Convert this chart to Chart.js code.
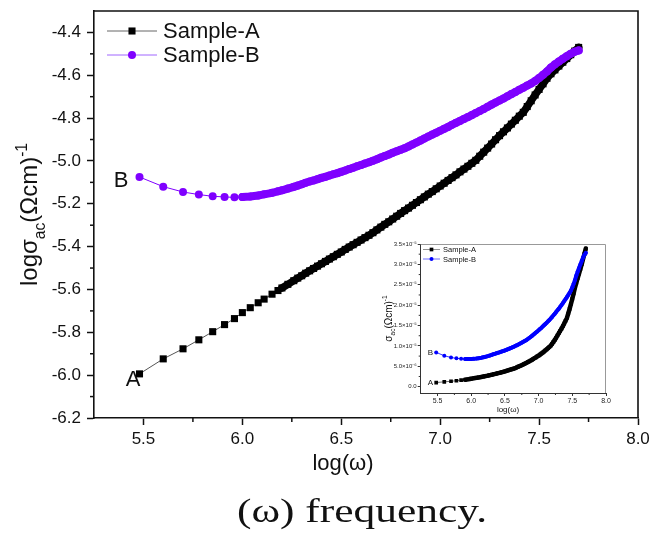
<!DOCTYPE html>
<html>
<head>
<meta charset="utf-8">
<script src="https://cdn.jsdelivr.net/npm/chart.js@4.4.0/dist/chart.umd.min.js"></script>
<style>
  body { margin: 0; background: #fff; }
  #wrap { position: relative; width: 662px; height: 538px; }
  #mainChart { position: absolute; left: 0; top: 0; }
  #insetChart { position: absolute; left: 378px; top: 236px; }
</style>
</head>
<body>
<div id="wrap">
  <canvas id="mainChart" width="662" height="538"></canvas>
  <canvas id="insetChart" width="236" height="180"></canvas>
</div>
<script>
// log(ω) values of the measured points
const logW = [
    5.48, 5.60, 5.70, 5.78, 5.85, 5.91, 5.96, 6.00, 6.04, 6.08,
    6.11, 6.15, 6.18, 6.20, 6.23, 6.26, 6.28, 6.30,
    6.32, 6.34, 6.36, 6.38, 6.40, 6.42, 6.44, 6.46, 6.48, 6.50,
    6.52, 6.54, 6.56, 6.58, 6.60, 6.62, 6.64, 6.66, 6.68, 6.70,
    6.72, 6.74, 6.76, 6.78, 6.80, 6.82, 6.84, 6.86, 6.88, 6.90,
    6.92, 6.94, 6.96, 6.98, 7.00, 7.02, 7.04, 7.06, 7.08, 7.10,
    7.12, 7.14, 7.16, 7.18, 7.20, 7.22, 7.24, 7.26, 7.28, 7.30,
    7.32, 7.34, 7.36, 7.38, 7.40, 7.42, 7.44, 7.46, 7.48, 7.50,
    7.52, 7.54, 7.56, 7.58, 7.60, 7.62, 7.64, 7.66, 7.68, 7.70
];

// log σac, Sample-A
const logSigmaA = [
    -5.994, -5.924, -5.877, -5.835, -5.797, -5.764, -5.736, -5.708, -5.685, -5.662,
    -5.645, -5.622, -5.605, -5.593, -5.576, -5.559, -5.547, -5.536,
    -5.524, -5.513, -5.502, -5.491, -5.480, -5.469, -5.458, -5.447, -5.436, -5.425,
    -5.413, -5.402, -5.391, -5.380, -5.369, -5.358, -5.347, -5.335, -5.322, -5.309,
    -5.296, -5.284, -5.271, -5.258, -5.245, -5.232, -5.220, -5.207, -5.194, -5.181,
    -5.168, -5.155, -5.143, -5.130, -5.117, -5.104, -5.091, -5.078, -5.065, -5.051,
    -5.038, -5.025, -5.011, -4.997, -4.978, -4.959, -4.940, -4.921, -4.901, -4.882,
    -4.864, -4.846, -4.828, -4.810, -4.791, -4.773, -4.746, -4.719, -4.692, -4.666,
    -4.640, -4.614, -4.593, -4.575, -4.557, -4.539, -4.522, -4.504, -4.487, -4.470
];

// log σac, Sample-B
const logSigmaB = [
    -5.075, -5.120, -5.145, -5.157, -5.165, -5.168, -5.170, -5.168, -5.166, -5.161,
    -5.156, -5.149, -5.142, -5.137, -5.129, -5.121, -5.115, -5.109,
    -5.102, -5.096, -5.091, -5.085, -5.079, -5.074, -5.068, -5.062, -5.057, -5.051,
    -5.045, -5.038, -5.032, -5.025, -5.019, -5.012, -5.006, -4.999, -4.992, -4.984,
    -4.977, -4.970, -4.962, -4.955, -4.948, -4.941, -4.932, -4.923, -4.914, -4.905,
    -4.895, -4.886, -4.877, -4.868, -4.859, -4.850, -4.841, -4.831, -4.822, -4.813,
    -4.804, -4.795, -4.786, -4.776, -4.767, -4.757, -4.747, -4.737, -4.727, -4.718,
    -4.708, -4.698, -4.688, -4.678, -4.668, -4.658, -4.648, -4.638, -4.627, -4.613,
    -4.598, -4.582, -4.564, -4.549, -4.536, -4.523, -4.511, -4.499, -4.490, -4.484
];

const seriesNames = ["Sample-A", "Sample-B"];
const xTicks = [5.5, 6.0, 6.5, 7.0, 7.5, 8.0];
const xMinorTicks = [5.75, 6.25, 6.75, 7.25, 7.75];
const yTicks = [-6.2, -6.0, -5.8, -5.6, -5.4, -5.2, -5.0, -4.8, -4.6, -4.4];
const yMinorTicks = [-6.1, -5.9, -5.7, -5.5, -5.3, -5.1, -4.9, -4.7, -4.5];

// inset: σac in units of 1e-5 (Ωcm)^-1
const insetYTicks = [0, 0.5, 1.0, 1.5, 2.0, 2.5, 3.0, 3.5];
const insetYLabels = ["0.0", "5.0×10⁻⁶", "1.0×10⁻⁵", "1.5×10⁻⁵", "2.0×10⁻⁵", "2.5×10⁻⁵", "3.0×10⁻⁵", "3.5×10⁻⁵"];
const insetYMinorTicks = [0.25, 0.75, 1.25, 1.75, 2.25, 2.75, 3.25];

const FONT = '"Liberation Sans", Arial, sans-serif';
const purple = "#7f00ff";

// linear σac (×1e-5) for the inset, same measurements
const sigmaA = logSigmaA.map((v) => Math.pow(10, v) * 1e5);
const sigmaB = logSigmaB.map((v) => Math.pow(10, v) * 1e5);

function toPoints(xs, ys) {
    return xs.map((x, i) => ({ x: x, y: ys[i] }));
}

// where the markers crowd into a solid band, draw the joining line as thick as a marker
function denseSegment(from, thin, thick, thinColor, thickColor) {
    return {
        borderWidth: (c) => (c.p0.parsed.x >= from ? thick : thin),
        borderColor: (c) => (c.p0.parsed.x >= from ? thickColor : thinColor),
        borderCapStyle: (c) => (c.p0.parsed.x >= from ? "round" : "butt"),
    };
}

// text with subscript (1) and superscript (2) parts
function richParts(ctx, parts, size, draw) {
    let x = 0;
    parts.forEach(([t, kind]) => {
        const s = kind ? size * 0.65 : size;
        ctx.font = s + "px " + FONT;
        const dy = kind === 1 ? size * 0.3 : kind === 2 ? -size * 0.42 : 0;
        if (draw) ctx.fillText(t, x, dy);
        x += ctx.measureText(t).width;
    });
    return x;
}

function drawRich(ctx, parts, cx, cy, size, rotate) {
    ctx.save();
    ctx.translate(cx, cy);
    if (rotate) ctx.rotate(-Math.PI / 2);
    ctx.textAlign = "left";
    ctx.textBaseline = "alphabetic";
    ctx.fillStyle = "#111";
    const w = richParts(ctx, parts, size, false);
    ctx.translate(-w / 2, size * 0.35);
    richParts(ctx, parts, size, true);
    ctx.restore();
}

function line(ctx, x1, y1, x2, y2) {
    ctx.beginPath();
    ctx.moveTo(x1, y1);
    ctx.lineTo(x2, y2);
    ctx.stroke();
}

function drawMarker(ctx, style, x, y, r, color) {
    ctx.fillStyle = color;
    if (style === "rect") {
        const s = r * Math.SQRT1_2;
        ctx.fillRect(x - s, y - s, 2 * s, 2 * s);
    } else {
        ctx.beginPath();
        ctx.arc(x, y, r, 0, Math.PI * 2);
        ctx.fill();
    }
}

const mainDecor = {
    id: "mainDecor",
    afterDraw(chart) {
        const { ctx, chartArea: a } = chart;
        const x = chart.scales.x;
        const y = chart.scales.y;
        ctx.save();
        // top and right frame
        ctx.strokeStyle = "#111";
        ctx.lineWidth = 1.6;
        ctx.beginPath();
        ctx.moveTo(a.left, a.top);
        ctx.lineTo(a.right, a.top);
        ctx.lineTo(a.right, a.bottom);
        ctx.stroke();
        // minor ticks
        ctx.lineWidth = 1.5;
        xMinorTicks.forEach((v) => {
            const px = x.getPixelForValue(v);
            line(ctx, px, a.bottom, px, a.bottom + 4);
        });
        yMinorTicks.forEach((v) => {
            const py = y.getPixelForValue(v);
            line(ctx, a.left - 4, py, a.left, py);
        });

        // legend
        const legendY = [31, 55];
        const lineCols = ["#666", "#a066ff"];
        const markCols = ["#000", purple];
        const styles = ["rect", "circle"];
        const radii = [5, 4];
        seriesNames.forEach((name, i) => {
            ctx.strokeStyle = lineCols[i];
            ctx.lineWidth = 1;
            line(ctx, 107, legendY[i], 157, legendY[i]);
            drawMarker(ctx, styles[i], 132, legendY[i], radii[i], markCols[i]);
            ctx.fillStyle = "#111";
            ctx.font = "22px " + FONT;
            ctx.textAlign = "left";
            ctx.textBaseline = "middle";
            ctx.fillText(name, 163, legendY[i] + 1);
        });

        // A / B curve labels
        ctx.font = "22px " + FONT;
        ctx.fillStyle = "#111";
        ctx.textAlign = "right";
        ctx.textBaseline = "middle";
        ctx.fillText("B", x.getPixelForValue(logW[0]) - 11, y.getPixelForValue(logSigmaB[0]) + 4);
        ctx.fillText("A", x.getPixelForValue(logW[0]) + 1, y.getPixelForValue(logSigmaA[0]) + 6);

        // axis titles
        drawRich(ctx, [["logσ", 0], ["ac", 1], ["(Ωcm)", 0], ["-1", 2]], 29, (a.top + a.bottom) / 2, 24, true);
        drawRich(ctx, [["log(ω)", 0]], 343, 462, 22, false);

        // caption
        ctx.font = '34px "Liberation Serif", "Times New Roman", serif';
        ctx.fillStyle = "#111";
        ctx.textAlign = "left";
        ctx.textBaseline = "alphabetic";
        const cap = "(ω) frequency.";
        const cw = ctx.measureText(cap).width;
        const sx = 250 / cw;
        ctx.translate(237, 522);
        ctx.scale(sx, 1);
        ctx.fillText(cap, 0, 0);
        ctx.restore();
    },
};

const insetDecor = {
    id: "insetDecor",
    afterDraw(chart) {
        const { ctx, chartArea: a } = chart;
        const x = chart.scales.x;
        const y = chart.scales.y;
        ctx.save();
        ctx.strokeStyle = "#999";
        ctx.lineWidth = 1;
        ctx.beginPath();
        ctx.moveTo(a.left, a.top + 0.5);
        ctx.lineTo(a.right - 0.5, a.top + 0.5);
        ctx.lineTo(a.right - 0.5, a.bottom);
        ctx.stroke();
        ctx.strokeStyle = "#333";
        xMinorTicks.forEach((v) => {
            const px = x.getPixelForValue(v);
            line(ctx, px, a.bottom, px, a.bottom + 2);
        });
        insetYMinorTicks.forEach((v) => {
            const py = y.getPixelForValue(v);
            line(ctx, a.left - 2, py, a.left, py);
        });

        // legend
        const legendY = [13.5, 23];
        const lineCols = ["#777", "#4a4aff"];
        const markCols = ["#000", "#0000ff"];
        const styles = ["rect", "circle"];
        const radii = [2.6, 2];
        seriesNames.forEach((name, i) => {
            ctx.strokeStyle = lineCols[i];
            ctx.lineWidth = 0.8;
            line(ctx, 45, legendY[i], 62, legendY[i]);
            drawMarker(ctx, styles[i], 53.5, legendY[i], radii[i], markCols[i]);
            ctx.fillStyle = "#111";
            ctx.font = "7.5px " + FONT;
            ctx.textAlign = "left";
            ctx.textBaseline = "middle";
            ctx.fillText(name, 65, legendY[i] + 0.5);
        });

        ctx.font = "8px " + FONT;
        ctx.fillStyle = "#111";
        ctx.textAlign = "right";
        ctx.textBaseline = "middle";
        ctx.fillText("B", x.getPixelForValue(logW[0]) - 3, y.getPixelForValue(sigmaB[0]));
        ctx.fillText("A", x.getPixelForValue(logW[0]) - 3, y.getPixelForValue(sigmaA[0]));

        drawRich(ctx, [["σ", 0], ["ac", 1], ["(Ωcm)", 0], ["-1", 2]], 10, (a.top + a.bottom) / 2, 10, true);
        drawRich(ctx, [["log(ω)", 0]], 130, 173, 8, false);
        ctx.restore();
    },
};

function fixedAxis(size, isX) {
    return (scale) => {
        if (isX) scale.height = size;
        else scale.width = size;
        scale.paddingTop = 0;
        scale.paddingBottom = 0;
        scale.paddingLeft = 0;
        scale.paddingRight = 0;
    };
}

new Chart(document.getElementById("mainChart").getContext("2d"), {
    type: "line",
    data: {
        datasets: [
            {
                label: seriesNames[0],
                data: toPoints(logW, logSigmaA),
                borderColor: "#555",
                borderWidth: 1,
                segment: denseSegment(6.2, 1, 7.5, "#555", "#000"),
                pointStyle: "rect",
                pointRadius: 5,
                pointBackgroundColor: "#000",
                pointBorderWidth: 0,
                order: 2,
            },
            {
                label: seriesNames[1],
                data: toPoints(logW, logSigmaB),
                borderColor: purple,
                borderWidth: 1,
                segment: denseSegment(6.0, 1, 8, purple, purple),
                pointStyle: "circle",
                pointRadius: 4,
                pointBackgroundColor: purple,
                pointBorderWidth: 0,
                order: 1,
            },
        ],
    },
    options: {
        responsive: false,
        animation: false,
        layout: { padding: { left: 0, top: 11, right: 24, bottom: 0 } },
        plugins: { legend: { display: false }, tooltip: { enabled: false } },
        scales: {
            x: {
                type: "linear",
                min: 5.25,
                max: 8.0,
                afterBuildTicks: (axis) => {
                    axis.ticks = xTicks.map((v) => ({ value: v }));
                },
                afterFit: fixedAxis(120, true),
                grid: { drawOnChartArea: false, tickLength: 7, tickWidth: 1.5, tickColor: "#111" },
                border: { color: "#111", width: 1.6 },
                ticks: {
                    maxRotation: 0,
                    padding: 4,
                    color: "#111",
                    font: { family: FONT, size: 17 },
                    callback: (v) => v.toFixed(1),
                },
            },
            y: {
                type: "linear",
                min: -6.2,
                max: -4.3,
                afterBuildTicks: (axis) => {
                    axis.ticks = yTicks.map((v) => ({ value: v }));
                },
                afterFit: fixedAxis(94, false),
                grid: { drawOnChartArea: false, tickLength: 7, tickWidth: 1.5, tickColor: "#111" },
                border: { color: "#111", width: 1.6 },
                ticks: {
                    padding: 6,
                    color: "#111",
                    font: { family: FONT, size: 17 },
                    callback: (v) => v.toFixed(1),
                },
            },
        },
    },
    plugins: [mainDecor],
});

new Chart(document.getElementById("insetChart").getContext("2d"), {
    type: "line",
    data: {
        datasets: [
            {
                label: seriesNames[0],
                data: toPoints(logW, sigmaA),
                borderColor: "#444",
                borderWidth: 0.8,
                segment: denseSegment(5.9, 0.8, 4.5, "#444", "#000"),
                pointStyle: "rect",
                pointRadius: 2.6,
                pointBackgroundColor: "#000",
                pointBorderWidth: 0,
                order: 2,
            },
            {
                label: seriesNames[1],
                data: toPoints(logW, sigmaB),
                borderColor: "#0000ff",
                borderWidth: 0.8,
                segment: denseSegment(5.9, 0.8, 4, "#0000ff", "#0000ff"),
                pointStyle: "circle",
                pointRadius: 2,
                pointBackgroundColor: "#0000ff",
                pointBorderWidth: 0,
                order: 1,
            },
        ],
    },
    options: {
        responsive: false,
        animation: false,
        layout: { padding: { left: 0, top: 8, right: 8, bottom: 0 } },
        plugins: { legend: { display: false }, tooltip: { enabled: false } },
        scales: {
            x: {
                type: "linear",
                min: 5.25,
                max: 8.0,
                afterBuildTicks: (axis) => {
                    axis.ticks = xTicks.map((v) => ({ value: v }));
                },
                afterFit: fixedAxis(23, true),
                grid: { drawOnChartArea: false, tickLength: 3, tickWidth: 1, tickColor: "#333" },
                border: { color: "#333", width: 1 },
                ticks: {
                    maxRotation: 0,
                    padding: 1,
                    color: "#222",
                    font: { family: FONT, size: 7 },
                    callback: (v) => v.toFixed(1),
                },
            },
            y: {
                type: "linear",
                min: -0.155,
                max: 3.5,
                afterBuildTicks: (axis) => {
                    axis.ticks = insetYTicks.map((v) => ({ value: v }));
                },
                afterFit: fixedAxis(42.7, false),
                grid: { drawOnChartArea: false, tickLength: 3, tickWidth: 1, tickColor: "#333" },
                border: { color: "#333", width: 1 },
                ticks: {
                    padding: 1,
                    color: "#222",
                    font: { family: FONT, size: 6 },
                    callback: (v, i) => insetYLabels[i],
                },
            },
        },
    },
    plugins: [insetDecor],
});
</script>
</body>
</html>
